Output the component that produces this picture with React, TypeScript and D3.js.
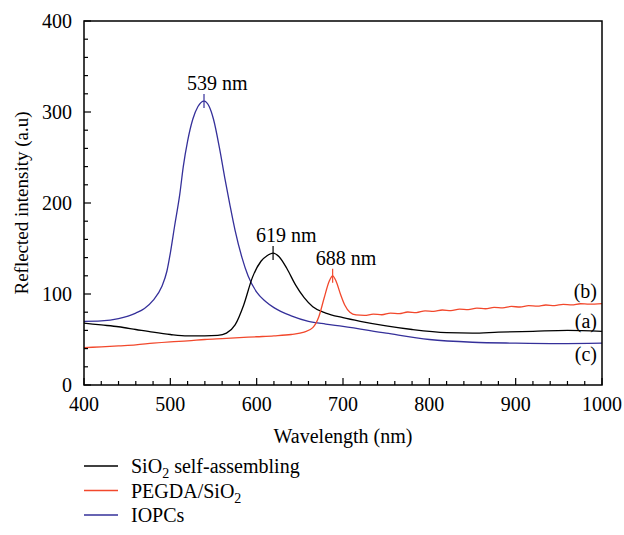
import React from "react";
import * as d3 from "d3";

const blackX = [400, 420, 440, 460, 480, 500, 520, 540, 555, 565, 575, 585, 595, 605, 612, 619, 626, 635, 645, 655, 665, 680, 700, 720, 750, 780, 820, 850, 880, 920, 960, 1000];
const blackY = [68, 66, 64, 61, 58, 55.5, 54, 54, 54.5, 57, 66, 88, 118, 136, 142, 145, 141, 128, 110, 96, 86, 79, 74, 70, 65, 61, 57.5, 57, 58, 59, 60, 59];

const redX = [400, 420, 440, 460, 480, 500, 520, 540, 560, 580, 600, 620, 640, 655, 665, 672, 678, 684, 688, 692, 697, 702, 708, 715, 725, 735, 745, 755, 765, 775, 785, 795, 805, 815, 825, 835, 845, 855, 865, 875, 885, 895, 905, 915, 925, 935, 945, 955, 965, 975, 985, 1000];
const redY = [41, 42, 43, 44, 46, 47.5, 48.5, 50, 51, 52, 53, 54, 55.5, 58, 63, 75, 95, 114, 120, 114, 100, 88, 80, 77, 76.5, 77.8, 77.2, 79, 78.4, 80.2, 79.6, 81.4, 80.8, 82.4, 81.8, 83.4, 82.8, 84.4, 83.8, 85.4, 84.8, 86.3, 85.7, 87.2, 86.6, 87.9, 87.3, 88.6, 88, 89.3, 88.8, 89.5];

const blueX = [400, 420, 440, 460, 470, 480, 490, 496, 500, 505, 511, 515, 520, 526, 532, 539, 545, 550, 557, 563, 569, 575, 583, 590, 600, 610, 620, 640, 660, 680, 700, 750, 800, 850, 900, 950, 1000];
const blueY = [70, 70.5, 73, 79, 84, 93, 108, 125, 145, 175, 210, 240, 268, 292, 306, 312, 306, 292, 260, 228, 198, 170, 140, 120, 102, 92, 85, 76, 70, 67, 64.5, 57, 50, 47, 46, 45.5, 46];

const xTicks = [400, 500, 600, 700, 800, 900, 1000];
const yTicks = [0, 100, 200, 300, 400];
const peaks = [
  { x: 539, y: 312, label: "539 nm" },
  { x: 619, y: 145, label: "619 nm" },
  { x: 688, y: 120, label: "688 nm" },
];
const curveLabels = [
  { text: "(b)", v: 103 },
  { text: "(a)", v: 70 },
  { text: "(c)", v: 34 },
];
const legendItems = ["SiO2 self-assembling", "PEGDA/SiO2", "IOPCs"];

const RED = "#f2482c";
const BLUE = "#35309a";

function T(props: any) {
  const { children, size = 20, ...rest } = props;
  return (
    <text {...rest} style={{ fontFamily: `"Times New Roman"`, fontSize: size }}>
      {children}
    </text>
  );
}

export default function App() {
  const left = 84, right = 602, top = 21, bottom = 385;
  const x = d3.scaleLinear().domain([400, 1000]).range([left, right]);
  const y = d3.scaleLinear().domain([0, 400]).range([bottom, top]);
  const line = d3.line<[number, number]>().x((d) => x(d[0])).y((d) => y(d[1])).curve(d3.curveMonotoneX);
  const mk = (xs: number[], ys: number[]) => line(xs.map((v, i) => [v, ys[i]] as [number, number])) || "";

  const series = [
    { d: mk(blueX, blueY), c: BLUE },
    { d: mk(blackX, blackY), c: "#000" },
    { d: mk(redX, redY), c: RED },
  ];
  const xMinor = d3.range(400, 1001, 20);
  const yMinor = d3.range(0, 401, 20);
  const legendColors = ["#000", RED, BLUE];

  return (
    <svg width={624} height={535} style={{ position: "absolute", left: 0, top: 0, background: "#fff" }}>
      {series.map((s, i) => (
        <path key={i} d={s.d} fill="none" stroke={s.c} strokeWidth={1.3} />
      ))}
      {xMinor.map((t) => {
        const major = t % 100 === 0;
        return <line key={"xm" + t} x1={x(t)} x2={x(t)} y1={bottom} y2={bottom - (major ? 7 : 4)} stroke="#000" strokeWidth={1.2} />;
      })}
      {yMinor.map((t) => {
        const major = t % 100 === 0;
        return <line key={"ym" + t} x1={left} x2={left + (major ? 7 : 4)} y1={y(t)} y2={y(t)} stroke="#000" strokeWidth={1.2} />;
      })}
      <rect x={left} y={top} width={right - left} height={bottom - top} fill="none" stroke="#000" strokeWidth={1.5} />
      {xTicks.map((t) => (
        <T key={"xt" + t} x={x(t)} y={bottom + 26} textAnchor="middle">{t}</T>
      ))}
      {yTicks.map((t) => (
        <T key={"yt" + t} x={left - 12} y={y(t)} dy="0.35em" textAnchor="end">{t}</T>
      ))}
      <T x={(left + right) / 2} y={443} textAnchor="middle">Wavelength (nm)</T>
      <T transform={`translate(28, ${(top + bottom) / 2}) rotate(-90)`} textAnchor="middle" size={19}>Reflected intensity (a.u)</T>
      {peaks.map((p) => (
        <g key={p.label}>
          <line x1={x(p.x)} x2={x(p.x)} y1={y(p.y) - 7} y2={y(p.y) + 7} stroke={p.x === 539 ? BLUE : p.x === 619 ? "#000" : RED} strokeWidth={1.2} />
          <T x={x(p.x) - 17} y={y(p.y) - 11}>{p.label}</T>
        </g>
      ))}
      {curveLabels.map((c) => (
        <T key={c.text} x={597} y={y(c.v)} dy="0.35em" textAnchor="end">{c.text}</T>
      ))}
      {legendItems.map((name, i) => {
        const ly = 466 + i * 24.5;
        return (
          <g key={name}>
            <line x1={84} x2={118} y1={ly} y2={ly} stroke={legendColors[i]} strokeWidth={1.3} />
            <T x={131} y={ly} dy="0.35em">
              {name === "SiO2 self-assembling" ? (
                <>SiO<tspan fontSize={14} dy="5">2</tspan><tspan dy="-5"> self-assembling</tspan></>
              ) : name === "PEGDA/SiO2" ? (
                <>PEGDA/SiO<tspan fontSize={14} dy="5">2</tspan></>
              ) : (
                name
              )}
            </T>
          </g>
        );
      })}
    </svg>
  );
}
